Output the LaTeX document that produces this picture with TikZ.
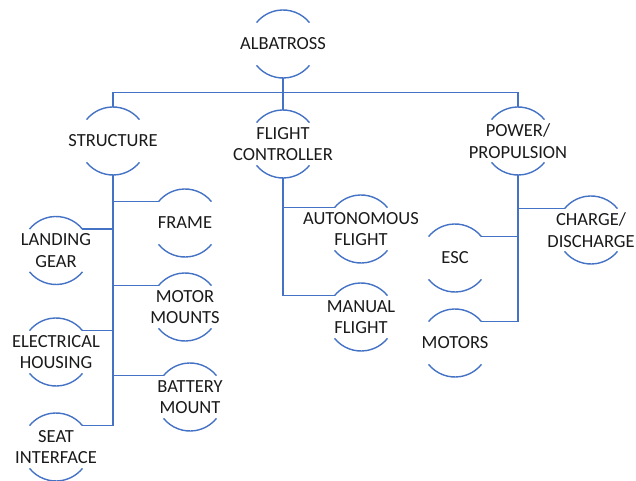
\documentclass[tikz,border=0pt]{standalone}
\usepackage{fontspec}
\setmainfont{Carlito}
\definecolor{lineblue}{HTML}{4472C4}
\definecolor{txt}{HTML}{1A1A1A}
\begin{document}
\begin{tikzpicture}[x=1pt,y=1pt,
  conn/.style={draw=lineblue,line width=1.4pt},
  arcline/.style={draw=lineblue,line width=1.4pt},
  item/.style={circle,minimum size=68pt,inner sep=0pt,outer sep=0pt,
    label={[txt,font=\fontsize{18.5}{21.5}\selectfont,align=center]center:#1}}]
\useasboundingbox (0,0) rectangle (636,481);
% node centers (image y converted: 481 - y)
\node[item={ALBATROSS}] (alb) at (283,437) {};
\node[item={STRUCTURE}] (str) at (113,340) {};
\node[item={FLIGHT\\CONTROLLER}] (fc) at (283,337) {};
\node[item={POWER/\\PROPULSION}] (pow) at (518,340) {};
\node[item={FRAME}] (frame) at (185,258) {};
\node[item={LANDING\\GEAR}] (land) at (56,230.5) {};
\node[item={MOTOR\\MOUNTS}] (mm) at (185,174) {};
\node[item={ELECTRICAL\\HOUSING}] (elec) at (56,129) {};
\node[item={BATTERY\\MOUNT}] (batt) at (190,84) {};
\node[item={SEAT\\INTERFACE}] (seat) at (56,34) {};
\node[item={AUTONOMOUS\\FLIGHT}] (auto) at (361,252) {};
\node[item={MANUAL\\FLIGHT}] (man) at (361,164) {};
\node[item={CHARGE/\\DISCHARGE}] (chg) at (591,251) {};
\node[item={ESC}] (esc) at (455,223) {};
\node[item={MOTORS}] (mot) at (455,138) {};
% arcs
\foreach \n in {alb,str,fc,pow,frame,land,mm,elec,batt,seat,auto,man,chg,esc,mot}{
  \draw[arcline] (\n.39) arc[start angle=39,end angle=141,radius=34pt];
  \draw[arcline] (\n.219) arc[start angle=219,end angle=321,radius=34pt];
}
% top level
\coordinate (bus) at (283,388.5);
\draw[conn] (alb.south) -- (bus);
\draw[conn] (str.north) |- (bus) -| (pow.north);
\draw[conn] (bus) -- (fc.north);
% structure
\draw[conn] (str.south) -- (str.south |- seat.39);
\foreach \c/\a in {frame/141,mm/141,batt/141,land/39,elec/39,seat/39}
  \draw[conn] (str.south |- \c.\a) -- (\c.\a);
% flight controller
\draw[conn] (fc.south) -- (fc.south |- man.141);
\foreach \c in {auto,man}
  \draw[conn] (fc.south |- \c.141) -- (\c.141);
% power
\draw[conn] (pow.south) -- (pow.south |- mot.39);
\draw[conn] (pow.south |- chg.141) -- (chg.141);
\foreach \c in {esc,mot}
  \draw[conn] (pow.south |- \c.39) -- (\c.39);
\end{tikzpicture}
\end{document}
